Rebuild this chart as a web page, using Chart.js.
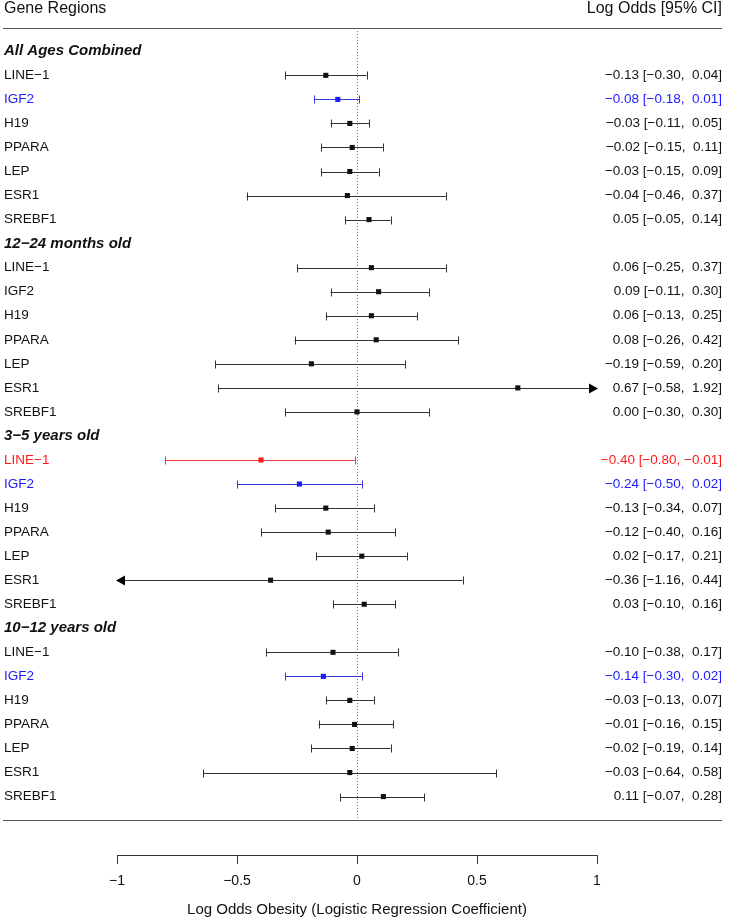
<!DOCTYPE html>
<html>
<head>
<meta charset="utf-8">
<script src="https://cdn.jsdelivr.net/npm/chart.js@4.4.1/dist/chart.umd.min.js"></script>
<style>
  html, body { margin: 0; padding: 0; background: #fff; }
  #wrap { width: 731px; height: 921px; }
</style>
</head>
<body>
<div id="wrap"><canvas id="grafica" width="731" height="921"></canvas></div>
<script>
const grupos = ['All Ages Combined', '12\u221224 months old', '3\u22125 years old', '10\u221212 years old'];
const genes = ['LINE\u22121', 'IGF2', 'H19', 'PPARA', 'LEP', 'ESR1', 'SREBF1'];

// estimacion, limite inferior, limite superior (por grupo, mismo orden que genes)
const estTodos = [-0.13, -0.08, -0.03, -0.02, -0.03, -0.04, 0.05];
const infTodos = [-0.30, -0.18, -0.11, -0.15, -0.15, -0.46, -0.05];
const supTodos = [0.04, 0.01, 0.05, 0.11, 0.09, 0.37, 0.14];

const est12m = [0.06, 0.09, 0.06, 0.08, -0.19, 0.67, 0.00];
const inf12m = [-0.25, -0.11, -0.13, -0.26, -0.59, -0.58, -0.30];
const sup12m = [0.37, 0.30, 0.25, 0.42, 0.20, 1.92, 0.30];

const est3a = [-0.40, -0.24, -0.13, -0.12, 0.02, -0.36, 0.03];
const inf3a = [-0.80, -0.50, -0.34, -0.40, -0.17, -1.16, -0.10];
const sup3a = [-0.01, 0.02, 0.07, 0.16, 0.21, 0.44, 0.16];

const est10a = [-0.10, -0.14, -0.03, -0.01, -0.02, -0.03, 0.11];
const inf10a = [-0.38, -0.30, -0.13, -0.16, -0.19, -0.64, -0.07];
const sup10a = [0.17, 0.02, 0.07, 0.15, 0.14, 0.58, 0.28];

// color de cada fila: 'k' negro, 'b' azul, 'r' rojo
const colTodos = ['k', 'b', 'k', 'k', 'k', 'k', 'k'];
const col12m = ['k', 'k', 'k', 'k', 'k', 'k', 'k'];
const col3a = ['r', 'b', 'k', 'k', 'k', 'k', 'k'];
const col10a = ['k', 'b', 'k', 'k', 'k', 'k', 'k'];

const xTicks = [-1, -0.5, 0, 0.5, 1];
const xMin = -1, xMax = 1;

const colores = { k: '#111111', b: '#1a1aff', r: '#ff1a1a' };
const lineaColores = { k: '#333333', b: '#3838e0', r: '#f03838' };
const fuente = "'Liberation Sans', Arial, Helvetica, sans-serif";

// armar filas
const filas = [];
const tabla = [
    [estTodos, infTodos, supTodos, colTodos],
    [est12m, inf12m, sup12m, col12m],
    [est3a, inf3a, sup3a, col3a],
    [est10a, inf10a, sup10a, col10a]
];
tabla.forEach((t, g) => {
    filas.push({ titulo: true, texto: grupos[g] });
    for (let i = 0; i < genes.length; i++) {
        filas.push({ titulo: false, texto: genes[i], est: t[0][i], inf: t[1][i], sup: t[2][i], col: t[3][i] });
    }
});

function fmt(v) {
    const s = Math.abs(v).toFixed(2);
    return v < 0 ? '\u2212' + s : s;
}
function textoDerecha(f) {
    if (f.titulo) return '';
    return fmt(f.est) + ' [' + fmt(f.inf) + ', ' + (f.sup >= 0 ? ' ' : '') + fmt(f.sup) + ']';
}

const puntos = [];
const puntoColores = [];
filas.forEach((f, i) => {
    if (!f.titulo) {
        puntos.push({ x: f.est, y: i });
        puntoColores.push(colores[f.col]);
    }
});

const ticksFilas = filas.map((_, i) => ({ value: i }));

const pluginForest = {
    id: 'forest',
    beforeDatasetsDraw(chart) {
        const ctx = chart.ctx;
        const xs = chart.scales.x;
        const ys = chart.scales.y;
        ctx.save();
        // linea vertical punteada en 0
        const x0 = xs.getPixelForValue(0);
        ctx.strokeStyle = '#777';
        ctx.lineWidth = 1;
        ctx.setLineDash([1, 2]);
        ctx.beginPath();
        ctx.moveTo(Math.round(x0) + 0.5, 28);
        ctx.lineTo(Math.round(x0) + 0.5, 820);
        ctx.stroke();
        ctx.setLineDash([]);

        // intervalos
        filas.forEach((f, i) => {
            if (f.titulo) return;
            const y = Math.round(ys.getPixelForValue(i)) + 0.5;
            const lo = Math.max(f.inf, xMin);
            const hi = Math.min(f.sup, xMax);
            const px1 = xs.getPixelForValue(lo);
            const px2 = xs.getPixelForValue(hi);
            const c = lineaColores[f.col];
            ctx.strokeStyle = c;
            ctx.lineWidth = 1;
            ctx.beginPath();
            ctx.moveTo(px1, y);
            ctx.lineTo(px2, y);
            ctx.stroke();
            const cap = 4;
            if (f.inf >= xMin) {
                ctx.beginPath();
                ctx.moveTo(Math.round(px1) + 0.5, y - cap);
                ctx.lineTo(Math.round(px1) + 0.5, y + cap);
                ctx.stroke();
            } else {
                ctx.fillStyle = '#000';
                ctx.beginPath();
                ctx.moveTo(px1 - 1, y);
                ctx.lineTo(px1 + 8, y - 5);
                ctx.lineTo(px1 + 8, y + 5);
                ctx.closePath();
                ctx.fill();
            }
            if (f.sup <= xMax) {
                ctx.beginPath();
                ctx.moveTo(Math.round(px2) + 0.5, y - cap);
                ctx.lineTo(Math.round(px2) + 0.5, y + cap);
                ctx.stroke();
            } else {
                ctx.fillStyle = '#000';
                ctx.beginPath();
                ctx.moveTo(px2 + 1, y);
                ctx.lineTo(px2 - 8, y - 5);
                ctx.lineTo(px2 - 8, y + 5);
                ctx.closePath();
                ctx.fill();
            }
        });
        ctx.restore();
    },
    afterDraw(chart) {
        const ctx = chart.ctx;
        const ys = chart.scales.y;
        ctx.save();
        // lineas horizontales
        ctx.strokeStyle = '#555';
        ctx.lineWidth = 1.2;
        ctx.beginPath();
        ctx.moveTo(3, 28.5);
        ctx.lineTo(722, 28.5);
        ctx.moveTo(3, 820.5);
        ctx.lineTo(722, 820.5);
        ctx.stroke();
        // encabezados
        ctx.fillStyle = '#111';
        ctx.font = '16px ' + fuente;
        ctx.textBaseline = 'middle';
        ctx.textAlign = 'left';
        ctx.fillText('Gene Regions', 4, 9);
        ctx.textAlign = 'right';
        ctx.fillText('Log Odds [95% CI]', 722, 9);
        // titulos de grupo
        ctx.textAlign = 'left';
        ctx.font = 'italic bold 15px ' + fuente;
        filas.forEach((f, i) => {
            if (f.titulo) ctx.fillText(f.texto, 4, ys.getPixelForValue(i));
        });
        ctx.restore();
    }
};

const ctx = document.getElementById('grafica').getContext('2d');
window.myChart = new Chart(ctx, {
    type: 'scatter',
    data: {
        datasets: [{
            data: puntos,
            backgroundColor: puntoColores,
            borderColor: puntoColores,
            borderWidth: 0,
            pointStyle: 'rect',
            pointRadius: 3.6,
            pointHoverRadius: 3.6,
            yAxisID: 'y'
        }]
    },
    options: {
        responsive: false,
        animation: false,
        events: [],
        layout: { padding: { left: 4, right: 9, top: 28, bottom: 0 } },
        plugins: { legend: { display: false }, tooltip: { enabled: false } },
        scales: {
            x: {
                type: 'linear',
                min: xMin,
                max: xMax,
                afterBuildTicks: axis => { axis.ticks = xTicks.map(v => ({ value: v })); },
                afterFit: axis => { axis.height = 66; },
                border: { display: true, color: '#333', width: 1 },
                grid: { drawOnChartArea: false, drawTicks: true, tickLength: 9, color: '#333' },
                ticks: {
                    color: '#111',
                    padding: 9,
                    font: { family: fuente, size: 14 },
                    callback: v => (v < 0 ? '\u2212' + Math.abs(v) : String(v))
                },
                title: {
                    display: true,
                    text: 'Log Odds Obesity (Logistic Regression Coefficient)',
                    color: '#111',
                    font: { family: fuente, size: 15 },
                    padding: { top: 4, bottom: 2 }
                }
            },
            y: {
                type: 'linear',
                position: 'left',
                reverse: true,
                min: -0.969,
                max: 33.43,
                afterBuildTicks: axis => { axis.ticks = ticksFilas.map(t => ({ value: t.value })); },
                afterFit: axis => { axis.width = 113; },
                border: { display: false },
                grid: { display: false, drawTicks: false },
                ticks: {
                    crossAlign: 'far',
                    autoSkip: false,
                    padding: 0,
                    color: c => {
                        const f = filas[c.index];
                        return f && !f.titulo ? colores[f.col] : '#111';
                    },
                    font: { family: fuente, size: 13.5 },
                    callback: (v, i) => filas[i] && !filas[i].titulo ? filas[i].texto : ''
                }
            },
            y2: {
                type: 'linear',
                position: 'right',
                reverse: true,
                min: -0.969,
                max: 33.43,
                afterBuildTicks: axis => { axis.ticks = ticksFilas.map(t => ({ value: t.value })); },
                afterFit: axis => { axis.width = 125; },
                border: { display: false },
                grid: { display: false, drawTicks: false },
                ticks: {
                    crossAlign: 'far',
                    autoSkip: false,
                    padding: 0,
                    color: c => {
                        const f = filas[c.index];
                        return f && !f.titulo ? colores[f.col] : '#111';
                    },
                    font: { family: fuente, size: 13.5 },
                    callback: (v, i) => filas[i] ? textoDerecha(filas[i]) : ''
                }
            }
        }
    },
    plugins: [pluginForest]
});
</script>
</body>
</html>
